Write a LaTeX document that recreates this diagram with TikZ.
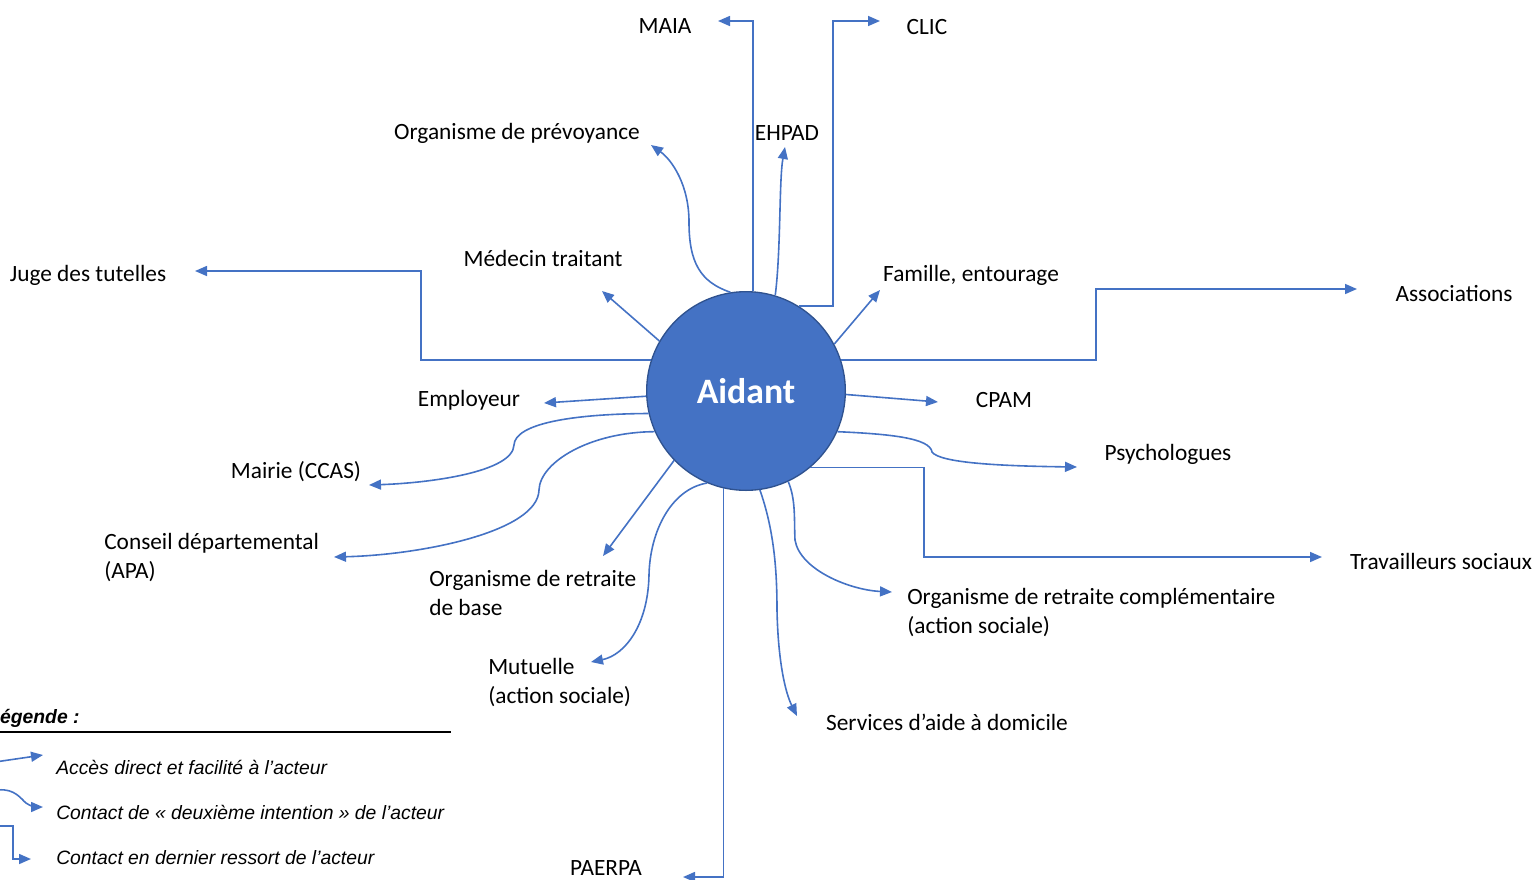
\documentclass[tikz,border=0pt]{standalone}
\usepackage{fontspec}
\setmainfont{Carlito}
\newfontfamily\legfont{Liberation Sans}
\usetikzlibrary{arrows.meta}
\definecolor{ablue}{HTML}{4472C4}
\definecolor{aborder}{HTML}{2F528F}
\begin{document}
\begin{tikzpicture}[x=0.75pt,y=-0.75pt,
  lbl/.style={font=\fontsize{17.5}{21.75}\selectfont, inner sep=0pt, text=black},
  lblm/.style={lbl, align=left, anchor=west},
  conn/.style={draw=ablue, line width=1.2pt, -{Triangle[length=9pt,width=7.5pt]}},
  leg/.style={font=\legfont\itshape\fontsize{14.5}{17}\selectfont, inner sep=0pt, anchor=west}]
\useasboundingbox (0,0) rectangle (1536,879);
% central node
\node[circle, fill=ablue, draw=aborder, line width=1pt, minimum size=149pt, inner sep=0pt,
      text=white, font=\bfseries\fontsize{26.8}{30}\selectfont] (A) at (746,391) {Aidant};
% labels
\node[lbl] (maia) at (665,26) {MAIA};
\node[lbl] (clic) at (927,27) {CLIC};
\node[lbl] (ehpad) at (787,133) {EHPAD};
\node[lbl] (prev) at (517,133) {Organisme de prévoyance};
\node[lbl] (med) at (543,258) {Médecin traitant};
\node[lbl] (fam) at (971,275) {Famille, entourage};
\node[lbl] (juge) at (88,275) {Juge des tutelles};
\node[lbl] (assoc) at (1454,294) {Associations};
\node[lbl] (empl) at (469,400) {Employeur};
\node[lbl] (cpam) at (1004,400) {CPAM};
\node[lbl] (mairie) at (296,472) {Mairie (CCAS)};
\node[lblm] (cd) at (104,557.5) {Conseil départemental\\(APA)};
\node[lbl] (psy) at (1168,454) {Psychologues};
\node[lbl] (ts) at (1441,561) {Travailleurs sociaux};
\node[lblm] (orb) at (429,592.5) {Organisme de retraite\\de base};
\node[lblm] (orc) at (907,612.5) {Organisme de retraite complémentaire\\(action sociale)};
\node[lblm] (mut) at (488,682.5) {Mutuelle\\(action sociale)};
\node[lbl] (sad) at (947,722) {Services d’aide à domicile};
\node[lbl] (paerpa) at (606,868) {PAERPA};
% arrow end coordinates
\coordinate (maiaE) at (718,21);
\coordinate (clicB) at (833,21);
\coordinate (clicE) at (880,21);
\coordinate (ehpadE) at (785,147);
\coordinate (prevE) at (651,145);
\coordinate (medE) at (602,291);
\coordinate (famE) at (880,290);
\coordinate (jugeB) at (421,271);
\coordinate (jugeE) at (195,271);
\coordinate (assocB) at (1096,289);
\coordinate (assocE) at (1357,289);
\coordinate (emplE) at (544,403);
\coordinate (cpamE) at (938,402);
\coordinate (mairieE) at (369,485);
\coordinate (cdE) at (334,557);
\coordinate (psyE) at (1077,467);
\coordinate (tsB) at (924,557);
\coordinate (tsE) at (1322,557);
\coordinate (orbE) at (603,556);
\coordinate (mutE) at (591,662);
\coordinate (paerpaE) at (683,877);
\coordinate (sadE) at (797,716);
\coordinate (orcE) at (892,592);
% connectors
\draw[conn] (A.86.6) |- (maiaE);
\draw[conn] (A.58.2) -| (clicB) -- (clicE);
\draw[conn] (A.73) .. controls (781,250) and (779,180) .. (ehpadE);
\draw[conn] (A.99.6) .. controls (700,282) and (689,262) .. (689,222) .. controls (689,185) and (672,160) .. (prevE);
\draw[conn] (A.150) -- (medE);
\draw[conn] (A.28.3) -- (famE);
\draw[conn] (A.162) -| (jugeB) -- (jugeE);
\draw[conn] (A.18) -| (assocB) -- (assocE);
\draw[conn] (A.183.5) -- (emplE);
\draw[conn] (A.-2.9) -- (cpamE);
\draw[conn] (A.193.5) .. controls (570,414) and (515,424) .. (514,445) .. controls (513,472) and (430,483) .. (mairieE);
\draw[conn] (A.204.5) .. controls (590,432) and (540,462) .. (539,490) .. controls (538,532) and (420,555) .. (cdE);
\draw[conn] (A.-24) .. controls (890,434) and (930,438) .. (932,452) .. controls (940,463) and (1000,466) .. (psyE);
\draw[conn] (A.-50) -| (tsB) -- (tsE);
\draw[conn] (A.224.6) -- (orbE);
\draw[conn] (A.247) .. controls (672,489) and (650,530) .. (649,575) .. controls (648,625) and (625,655) .. (mutE);
\draw[conn] (A.257) |- (paerpaE);
\draw[conn] (A.-82) .. controls (774,530) and (777,570) .. (777,610) .. controls (778,660) and (785,692) .. (sadE);
\draw[conn] (A.-65.4) .. controls (796,500) and (794,520) .. (795,540) .. controls (800,570) and (850,590) .. (orcE);
% legend
\node[font=\legfont\bfseries\itshape\fontsize{14.5}{17}\selectfont, inner sep=0pt, anchor=west] (legt) at (-12,718) {Légende :};
\coordinate (legL) at (0,732);
\coordinate (legR) at (451,732);
\draw[black, line width=0.8pt] (legL) -- (legR);
\node[leg] (leg1) at (56,767) {Accès direct et facilité à l’acteur};
\node[leg] (leg2) at (56,812) {Contact de « deuxième intention » de l’acteur};
\node[leg] (leg3) at (56,858) {Contact en dernier ressort de l’acteur};
\coordinate (l1s) at (-5,762);
\coordinate (l1e) at (43,755);
\coordinate (l2s) at (-2,790);
\coordinate (l2e) at (43,807);
\coordinate (l3s) at (-2,826);
\coordinate (l3b) at (13,859);
\coordinate (l3e) at (31,859);
\draw[conn] (l1s) -- (l1e);
\draw[conn] (l2s) .. controls (15,788) and (22,800) .. (26,803) .. controls (30,806) and (36,807) .. (l2e);
\draw[conn] (l3s) -| (l3b) -- (l3e);
\end{tikzpicture}
\end{document}
